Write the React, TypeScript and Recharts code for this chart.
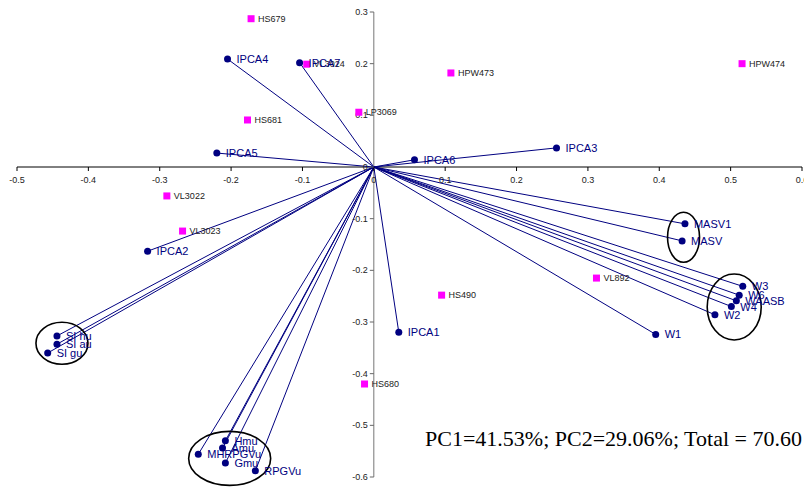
import React from "react";
import { ScatterChart, Scatter, XAxis, YAxis, ReferenceLine } from "recharts";

// axis ticks
const xTicks = [-0.5, -0.4, -0.3, -0.2, -0.1, 0, 0.1, 0.2, 0.3, 0.4, 0.5, 0.6];
const yTicks = [0.3, 0.2, 0.1, 0, -0.1, -0.2, -0.3, -0.4, -0.5, -0.6];

// vectors (navy, drawn from origin)
const traitNames = [
  "IPCA4", "IPCA7", "IPCA5", "IPCA6", "IPCA3", "IPCA2", "IPCA1",
  "MASV1", "MASV", "W3", "W6", "WAASB", "W4", "W2", "W1",
  "SI hu", "SI au", "SI gu", "Hmu", "Amu", "MHRPGVu", "Gmu", "RPGVu",
];
const traitPc1 = [
  -0.205, -0.104, -0.22, 0.057, 0.256, -0.317, 0.035,
  0.436, 0.432, 0.517, 0.512, 0.508, 0.501, 0.478, 0.395,
  -0.444, -0.444, -0.457, -0.208, -0.212, -0.246, -0.208, -0.166,
];
const traitPc2 = [
  0.209, 0.202, 0.027, 0.014, 0.037, -0.163, -0.32,
  -0.11, -0.143, -0.231, -0.248, -0.259, -0.27, -0.286, -0.324,
  -0.327, -0.343, -0.36, -0.53, -0.544, -0.556, -0.573, -0.588,
];

// genotypes (magenta squares)
const genoNames = [
  "HS679", "VL3024", "HS681", "LP3069", "HPW473", "HPW474",
  "VL3022", "VL3023", "VL892", "HS490", "HS680",
];
const genoPc1 = [-0.172, -0.094, -0.177, -0.021, 0.108, 0.516, -0.29, -0.268, 0.312, 0.095, -0.013];
const genoPc2 = [0.287, 0.199, 0.091, 0.106, 0.182, 0.2, -0.056, -0.124, -0.215, -0.248, -0.42];

// grouping ellipses (centres in PC units)
const groupNames = ["SI", "mu", "W", "MASV"];
const groupPc1 = [-0.437, -0.202, 0.505, 0.434];
const groupPc2 = [-0.341, -0.564, -0.271, -0.136];
const groupRadii: Record<string, [number, number]> = {
  SI: [26, 21],
  mu: [41, 27],
  W: [27, 33],
  MASV: [16, 25],
};

const traits = traitNames.map((name, i) => ({ name, x: traitPc1[i], y: traitPc2[i] }));
const genos = genoNames.map((name, i) => ({ name, x: genoPc1[i], y: genoPc2[i] }));
const groups = groupNames.map((name, i) => ({ name, x: groupPc1[i], y: groupPc2[i] }));
const xTickPts = xTicks.map((t) => ({ x: t, y: 0, label: String(t) }));
const yTickPts = yTicks.map((t) => ({ x: 0, y: t, label: String(t) }));

const W = 804;
const H = 480;
const margin = { top: 4, right: 10, bottom: 11, left: 9 };

const font = "'Liberation Sans', Arial, sans-serif";

const XTick = (props: any) => {
  const { cx, cy, payload } = props;
  return (
    <g>
      <line x1={cx} x2={cx} y1={cy} y2={cy + 4} stroke="#000" />
      <text x={cx} y={cy + 16} textAnchor="middle" fontSize={9} fontFamily={font} fill="#222">
        {payload.label}
      </text>
    </g>
  );
};

const YTick = (props: any) => {
  const { cx, cy, payload } = props;
  return (
    <g>
      <line x1={cx - 4} x2={cx} y1={cy} y2={cy} stroke="#666" />
      <text x={cx - 6} y={cy + 3} textAnchor="end" fontSize={9} fontFamily={font} fill="#222">
        {payload.label}
      </text>
    </g>
  );
};

const TraitDot = (props: any) => {
  const { cx, cy, payload } = props;
  return (
    <g>
      <circle cx={cx} cy={cy} r={3.5} fill="#000080" />
      <text x={cx + 9} y={cy + 4} fontSize={11} fontFamily={font} fill="#000080">
        {payload.name}
      </text>
    </g>
  );
};

const GenoDot = (props: any) => {
  const { cx, cy, payload } = props;
  return (
    <g>
      <rect x={cx - 3.5} y={cy - 3.5} width={7} height={7} fill="#ff00ff" />
      <text x={cx + 7} y={cy + 3} fontSize={9} fontFamily={font} fill="#222">
        {payload.name}
      </text>
    </g>
  );
};

const GroupEllipse = (props: any) => {
  const { cx, cy, payload } = props;
  const [rx, ry] = groupRadii[payload.name];
  return <ellipse cx={cx} cy={cy} rx={rx} ry={ry} fill="none" stroke="#000" strokeWidth={1.6} />;
};

export default function App() {
  return (
    <div style={{ position: "relative", width: W, height: H }}>
      <style>{"html, body { overflow: hidden; }"}</style>
      <ScatterChart width={W} height={H} margin={margin}>
        <XAxis type="number" dataKey="x" domain={[-0.5, 0.6]} ticks={xTicks} hide />
        <YAxis type="number" dataKey="y" domain={[-0.6, 0.3]} ticks={yTicks} hide />
        <ReferenceLine y={0} stroke="#000" />
        <ReferenceLine x={0} stroke="#777" />
        {traits.map((t) => (
          <ReferenceLine
            key={t.name}
            segment={[{ x: 0, y: 0 }, { x: t.x, y: t.y }]}
            stroke="#000080"
            strokeWidth={1}
            ifOverflow="visible"
          />
        ))}
        <Scatter data={xTickPts} shape={<XTick />} isAnimationActive={false} />
        <Scatter data={yTickPts} shape={<YTick />} isAnimationActive={false} />
        <Scatter data={groups} shape={<GroupEllipse />} isAnimationActive={false} />
        <Scatter data={genos} shape={<GenoDot />} isAnimationActive={false} />
        <Scatter data={traits} shape={<TraitDot />} isAnimationActive={false} />
      </ScatterChart>
      <div
        style={{
          position: "absolute",
          left: 417,
          top: 420,
          fontFamily: "'Liberation Serif', 'Times New Roman', serif",
          fontSize: 22,
          lineHeight: "22px",
          whiteSpace: "nowrap",
          color: "#000",
        }}
      >
        PC1=41.53%; PC2=29.06%; Total = 70.60
      </div>
    </div>
  );
}
